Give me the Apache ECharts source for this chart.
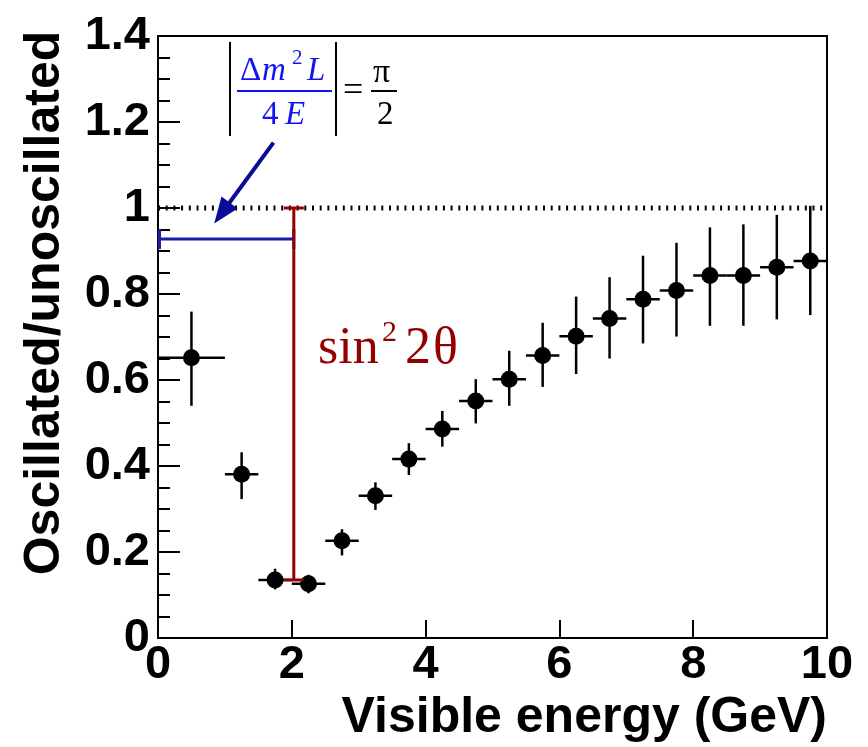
<!DOCTYPE html>
<html>
<head>
<meta charset="utf-8">
<script src="https://cdn.jsdelivr.net/npm/echarts@6/dist/echarts.min.js"></script>
<style>
  html, body { margin: 0; padding: 0; background: #ffffff; }
  #chart { width: 868px; height: 747px; }
</style>
</head>
<body>
<div id="chart"></div>
<script>
// Bin centres of visible energy (GeV) and bin edges
const energy  = [0.5, 1.25, 1.75, 2.25, 2.75, 3.25, 3.75, 4.25, 4.75, 5.25, 5.75, 6.25, 6.75, 7.25, 7.75, 8.25, 8.75, 9.25, 9.75];
const binLow  = [0.0, 1.0, 1.5, 2.0, 2.5, 3.0, 3.5, 4.0, 4.5, 5.0, 5.5, 6.0, 6.5, 7.0, 7.5, 8.0, 8.5, 9.0, 9.5];
const binHigh = [1.0, 1.5, 2.0, 2.5, 3.0, 3.5, 4.0, 4.5, 5.0, 5.5, 6.0, 6.5, 7.0, 7.5, 8.0, 8.5, 9.0, 9.5, 10.0];
// Oscillated / unoscillated ratio and its error band
const ratio     = [0.652, 0.381, 0.135, 0.126, 0.226, 0.331, 0.416, 0.486, 0.551, 0.602, 0.657, 0.702, 0.743, 0.788, 0.808, 0.843, 0.843, 0.862, 0.877];
const ratioHigh = [0.759, 0.432, 0.161, 0.147, 0.253, 0.362, 0.453, 0.528, 0.602, 0.668, 0.733, 0.794, 0.839, 0.889, 0.919, 0.955, 0.962, 0.984, 1.005];
const ratioLow  = [0.540, 0.323, 0.113, 0.104, 0.192, 0.298, 0.379, 0.445, 0.499, 0.540, 0.584, 0.614, 0.650, 0.685, 0.701, 0.726, 0.726, 0.741, 0.751];

// Axis ranges and tick steps
const xRange = [0, 10], xStep = 2;
const yRange = [0, 1.4], yStep = 0.2;

// Annotation values: no-oscillation level, first-minimum energy, dip depth, marker level
const noOscLevel  = 1.0;
const firstMinE   = 2.03;
const dipLevel    = 0.135;
const phaseLevel  = 0.928;
const arrowFrom   = [1.726, 1.152];
const arrowTo     = [0.84, 0.964];

const BLUE_BAR = '#1c1caa';
const ARROW = '#0a0a96';
const DARK_RED = '#930000';
const FORM_BLUE = '#1414f0';

const points = energy.map((e, i) => [e, ratio[i], binLow[i], binHigh[i], ratioLow[i], ratioHigh[i]]);

const chart = echarts.init(document.getElementById('chart'), null, { renderer: 'canvas' });

const sansBold = { fontFamily: '"Liberation Sans", Arial, sans-serif', fontWeight: 'bold', color: '#000' };
const serif = '"Liberation Serif", "DejaVu Serif", serif';

function txt(text, x, baseline, size, color, italic, align) {
  return {
    type: 'text',
    z: 100,
    style: {
      text: text,
      x: x,
      y: baseline - 0.34 * size,
      fill: color,
      font: (italic ? 'italic ' : '') + size + 'px ' + serif,
      align: align || 'left',
      verticalAlign: 'middle'
    }
  };
}
function seg(x1, y1, x2, y2, color, w) {
  return { type: 'line', z: 100, shape: { x1, y1, x2, y2 }, style: { stroke: color, lineWidth: w } };
}

const option = {
  animation: false,
  backgroundColor: '#fff',
  grid: {
    left: 158, top: 36, width: 669, height: 602,
    show: true, borderColor: '#000', borderWidth: 2, backgroundColor: 'transparent'
  },
  xAxis: {
    type: 'value', min: xRange[0], max: xRange[1], interval: xStep,
    axisLine: { show: true, onZero: false, lineStyle: { color: '#000', width: 2 } },
    axisTick: { show: true, inside: true, length: 18, lineStyle: { color: '#000', width: 2 } },
    minorTick: { show: false },
    splitLine: { show: false },
    axisLabel: Object.assign({ fontSize: 47, margin: 4 }, sansBold)
  },
  yAxis: {
    type: 'value', min: yRange[0], max: yRange[1], interval: yStep,
    axisLine: { show: true, onZero: false, lineStyle: { color: '#000', width: 2 } },
    axisTick: { show: true, inside: true, length: 22, lineStyle: { color: '#000', width: 2 } },
    minorTick: { show: true, splitNumber: 4, length: 12, lineStyle: { color: '#000', width: 2 } },
    splitLine: { show: false },
    axisLabel: Object.assign({ fontSize: 47, margin: 8 }, sansBold)
  },
  series: [
    {
      // no-oscillation reference level
      type: 'line',
      data: [[xRange[0], noOscLevel], [xRange[1], noOscLevel]],
      showSymbol: false,
      lineStyle: { color: '#000', width: 5, type: [2, 5.7] },
      silent: true,
      z: 1
    },
    {
      // bin-width and statistical error bars
      type: 'custom',
      data: points,
      encode: { x: 0, y: 1 },
      z: 3,
      renderItem: function (params, api) {
        const y = api.value(1), x = api.value(0);
        const a = api.coord([api.value(2), y]);
        const b = api.coord([api.value(3), y]);
        const lo = api.coord([x, api.value(4)]);
        const hi = api.coord([x, api.value(5)]);
        const st = { stroke: '#000', lineWidth: 2.5 };
        return {
          type: 'group',
          children: [
            { type: 'line', shape: { x1: a[0], y1: a[1], x2: b[0], y2: b[1] }, style: st },
            { type: 'line', shape: { x1: lo[0], y1: lo[1], x2: hi[0], y2: hi[1] }, style: st }
          ]
        };
      }
    },
    {
      type: 'scatter',
      data: points.map(p => [p[0], p[1]]),
      symbol: 'circle',
      symbolSize: 17,
      itemStyle: { color: '#000', opacity: 1 },
      z: 4
    },
    {
      // horizontal marker: energy range up to the first oscillation minimum
      type: 'custom',
      data: [[xRange[0], firstMinE, phaseLevel]],
      z: 5,
      renderItem: function (params, api) {
        const a = api.coord([api.value(0), api.value(2)]);
        const b = api.coord([api.value(1), api.value(2)]);
        const st = { stroke: BLUE_BAR, lineWidth: 3 };
        return {
          type: 'group',
          children: [
            { type: 'line', shape: { x1: a[0], y1: a[1], x2: b[0], y2: b[1] }, style: st },
            { type: 'line', shape: { x1: a[0] + 1.5, y1: a[1] - 10, x2: a[0] + 1.5, y2: a[1] + 10 }, style: st },
            { type: 'line', shape: { x1: b[0], y1: b[1] - 10, x2: b[0], y2: b[1] + 10 }, style: st }
          ]
        };
      }
    },
    {
      // vertical marker: depth of the oscillation dip
      type: 'custom',
      data: [[firstMinE, dipLevel, noOscLevel]],
      z: 6,
      renderItem: function (params, api) {
        const lo = api.coord([api.value(0), api.value(1)]);
        const hi = api.coord([api.value(0), api.value(2)]);
        const st = { stroke: DARK_RED, lineWidth: 3 };
        return {
          type: 'group',
          children: [
            { type: 'line', shape: { x1: lo[0], y1: lo[1], x2: hi[0], y2: hi[1] }, style: st },
            { type: 'line', shape: { x1: hi[0] - 10, y1: hi[1], x2: hi[0] + 10, y2: hi[1] }, style: st },
            { type: 'line', shape: { x1: lo[0] - 10, y1: lo[1], x2: lo[0] + 10, y2: lo[1] }, style: st }
          ]
        };
      }
    },
    {
      // arrow from the phase formula to the marker
      type: 'custom',
      data: [[arrowFrom[0], arrowFrom[1], arrowTo[0], arrowTo[1]]],
      z: 7,
      renderItem: function (params, api) {
        const p0 = api.coord([api.value(0), api.value(1)]);
        const p1 = api.coord([api.value(2), api.value(3)]);
        const dx = p1[0] - p0[0], dy = p1[1] - p0[1];
        const len = Math.sqrt(dx * dx + dy * dy);
        const ux = dx / len, uy = dy / len;
        const headL = 26, headW = 10;
        const bx = p1[0] - ux * headL, by = p1[1] - uy * headL;
        return {
          type: 'group',
          children: [
            { type: 'line', shape: { x1: p0[0], y1: p0[1], x2: bx + ux * 4, y2: by + uy * 4 }, style: { stroke: ARROW, lineWidth: 4 } },
            { type: 'polygon', shape: { points: [[p1[0], p1[1]], [bx - uy * headW, by + ux * headW], [bx + uy * headW, by - ux * headW]] }, style: { fill: ARROW } }
          ]
        };
      }
    }
  ],
  graphic: [
    {
      type: 'text', z: 100,
      x: 45, y: 303, rotation: Math.PI / 2,
      style: { text: 'Oscillated/unoscillated', fill: '#000', font: 'bold 50px "Liberation Sans", Arial, sans-serif', align: 'center', verticalAlign: 'middle' }
    },
    {
      type: 'text', z: 100,
      style: { text: 'Visible energy (GeV)', x: 827, y: 718, fill: '#000', font: 'bold 50px "Liberation Sans", Arial, sans-serif', align: 'right', verticalAlign: 'middle' }
    },
    // |Δm² L / 4E| = π/2
    seg(230, 42, 230, 136, '#000', 2),
    seg(336, 42, 336, 136, '#000', 2),
    txt('\u0394', 240, 83, 33, FORM_BLUE, false),
    txt('m', 262, 83, 33, FORM_BLUE, true),
    txt('2', 292, 66, 21, FORM_BLUE, false),
    txt('L', 307, 83, 33, FORM_BLUE, true),
    seg(237, 91, 332, 91, FORM_BLUE, 2),
    txt('4', 262, 127, 33, FORM_BLUE, false),
    txt('E', 285, 127, 33, FORM_BLUE, true),
    txt('=', 343, 104, 36, '#000', false),
    txt('\u03c0', 373, 85, 34, '#000', false),
    seg(371, 91, 397, 91, '#000', 2),
    txt('2', 377, 127, 33, '#000', false),
    // sin²2θ
    txt('sin', 318, 367, 52, DARK_RED, false),
    txt('2', 382, 343, 30, DARK_RED, false),
    txt('2', 405, 367, 52, DARK_RED, false),
    txt('\u03b8', 433, 367, 52, DARK_RED, false)
  ]
};

chart.setOption(option);
</script>
</body>
</html>
